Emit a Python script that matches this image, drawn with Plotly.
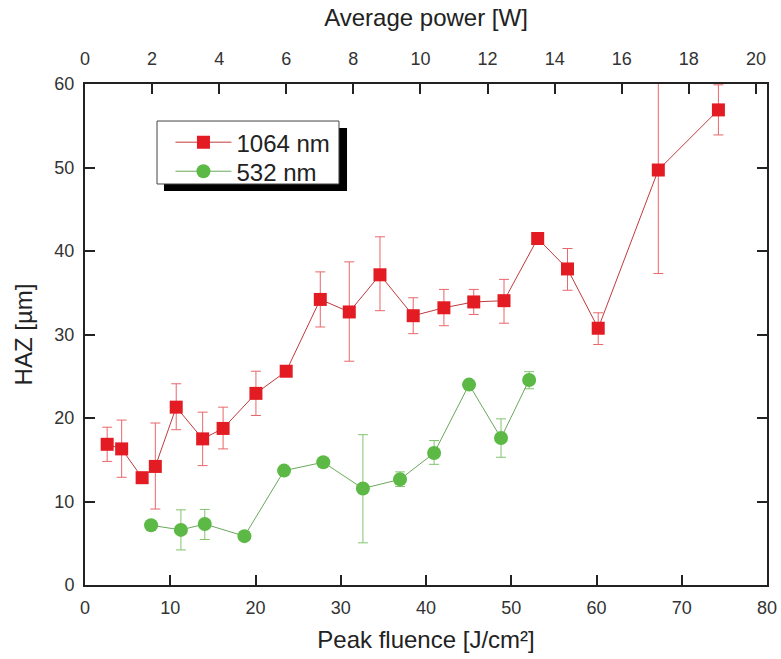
import plotly.graph_objects as go

# 1064 nm series
fluence_1064 = [2.6, 4.3, 6.7, 8.25, 10.7, 13.8, 16.2, 20.05, 23.6, 27.6, 31.0, 34.6,
                38.5, 42.1, 45.6, 49.15, 53.1, 56.6, 60.2, 67.25, 74.3]
haz_1064 = [16.85, 16.3, 12.85, 14.2, 21.3, 17.5, 18.75, 22.95, 25.6, 34.2, 32.7, 37.15,
            32.25, 33.2, 33.9, 34.05, 41.5, 37.85, 30.75, 49.7, 56.9]
err_up_1064 = [2.05, 3.45, 0.0, 5.2, 2.8, 3.2, 2.55, 2.65, 0.0, 3.3, 6.0, 4.55,
               2.15, 2.2, 1.5, 2.55, 0.0, 2.45, 1.85, 12.4, 3.0]
err_dn_1064 = [2.05, 3.4, 0.0, 5.1, 2.7, 3.2, 2.45, 2.65, 0.0, 3.3, 5.9, 4.3,
               2.15, 2.15, 1.5, 2.7, 0.0, 2.55, 1.95, 12.4, 3.0]

# 532 nm series
fluence_532 = [7.75, 11.25, 14.05, 18.7, 23.35, 27.95, 32.6, 36.95, 40.95, 45.05, 48.8, 52.1]
haz_532 = [7.15, 6.6, 7.3, 5.85, 13.7, 14.7, 11.55, 12.65, 15.8, 24.0, 17.6, 24.55]
err_up_532 = [0.0, 2.4, 1.75, 0.0, 0.0, 0.0, 6.45, 0.9, 1.5, 0.0, 2.3, 1.0]
err_dn_532 = [0.0, 2.4, 1.85, 0.0, 0.0, 0.0, 6.5, 0.85, 1.35, 0.0, 2.3, 1.05]

x_ticks = [0, 10, 20, 30, 40, 50, 60, 70, 80]
y_ticks = [0, 10, 20, 30, 40, 50, 60]
power_ticks = [0, 2, 4, 6, 8, 10, 12, 14, 16, 18, 20]

RED = "#e31b23"
RED_LINE = "#bf3a3e"
RED_ERR = "#e8676b"
GREEN = "#5cb946"
GREEN_LINE = "#6aa85a"
GREEN_ERR = "#80c46e"

font_family = "Liberation Sans, Arial, sans-serif"
TXT = "#222222"
AX = "#222222"

fig = go.Figure()
fig.add_trace(go.Scatter(
    x=fluence_1064, y=haz_1064, name="1064 nm", mode="lines+markers", legend="legend",
    line=dict(color=RED_LINE, width=1),
    marker=dict(symbol="square", size=13, color=RED),
    error_y=dict(type="data", symmetric=False, array=err_up_1064, arrayminus=err_dn_1064,
                 color=RED_ERR, thickness=1, width=5),
))
fig.add_trace(go.Scatter(
    x=fluence_532, y=haz_532, name="532 nm", mode="lines+markers", legend="legend2",
    line=dict(color=GREEN_LINE, width=1),
    marker=dict(symbol="circle", size=14, color=GREEN),
    error_y=dict(type="data", symmetric=False, array=err_up_532, arrayminus=err_dn_532,
                 color=GREEN_ERR, thickness=1, width=5),
))
fig.add_trace(go.Scatter(x=[], y=[], xaxis="x2", showlegend=False, hoverinfo="skip"))

common = dict(ticks="inside", ticklen=10, tickwidth=2, tickcolor=AX, showline=True,
              linecolor=AX, linewidth=2, showgrid=False, zeroline=False, automargin=False,
              tickfont=dict(size=18, color="#333333"))

legend_common = dict(xanchor="left", yanchor="top", bgcolor="rgba(0,0,0,0)", borderwidth=0,
                     font=dict(size=24, color=TXT), itemwidth=56)

fig.update_layout(
    width=781, height=659,
    margin=dict(l=85, r=14, t=84, b=74),
    paper_bgcolor="white", plot_bgcolor="white",
    font=dict(family=font_family, color=TXT, size=18),
    showlegend=True,
    legend=dict(x=0.1253, y=0.928, **legend_common),
    legend2=dict(x=0.1253, y=0.870, **legend_common),
    xaxis=dict(range=[0, 80], tickvals=x_ticks, mirror=False, ticklabelstandoff=5,
               title=dict(text="Peak fluence [J/cm²]", font=dict(size=24, color=TXT)),
               **common),
    xaxis2=dict(range=[0, 20.33], tickvals=power_ticks, overlaying="x", side="top",
                anchor="y", ticklabelstandoff=10,
                title=dict(text="Average power [W]", font=dict(size=24, color=TXT)),
                **common),
    yaxis=dict(range=[0, 60], tickvals=y_ticks, mirror="ticks", ticklabelstandoff=5,
               title=dict(text="HAZ [µm]", font=dict(size=24, color=TXT)),
               **common),
    shapes=[
        dict(type="rect", xref="paper", yref="paper", x0=0.1158, x1=0.3842, y0=0.7864, y1=0.9122,
             fillcolor="black", line=dict(width=0), layer="above"),
        dict(type="rect", xref="paper", yref="paper", x0=0.1056, x1=0.3724, y0=0.8004, y1=0.9261,
             fillcolor="white", line=dict(color="#444444", width=1), layer="above"),
    ],
)

fig.write_html("out.html", config={"displayModeBar": False},
               post_script="document.body.style.margin='0';")
